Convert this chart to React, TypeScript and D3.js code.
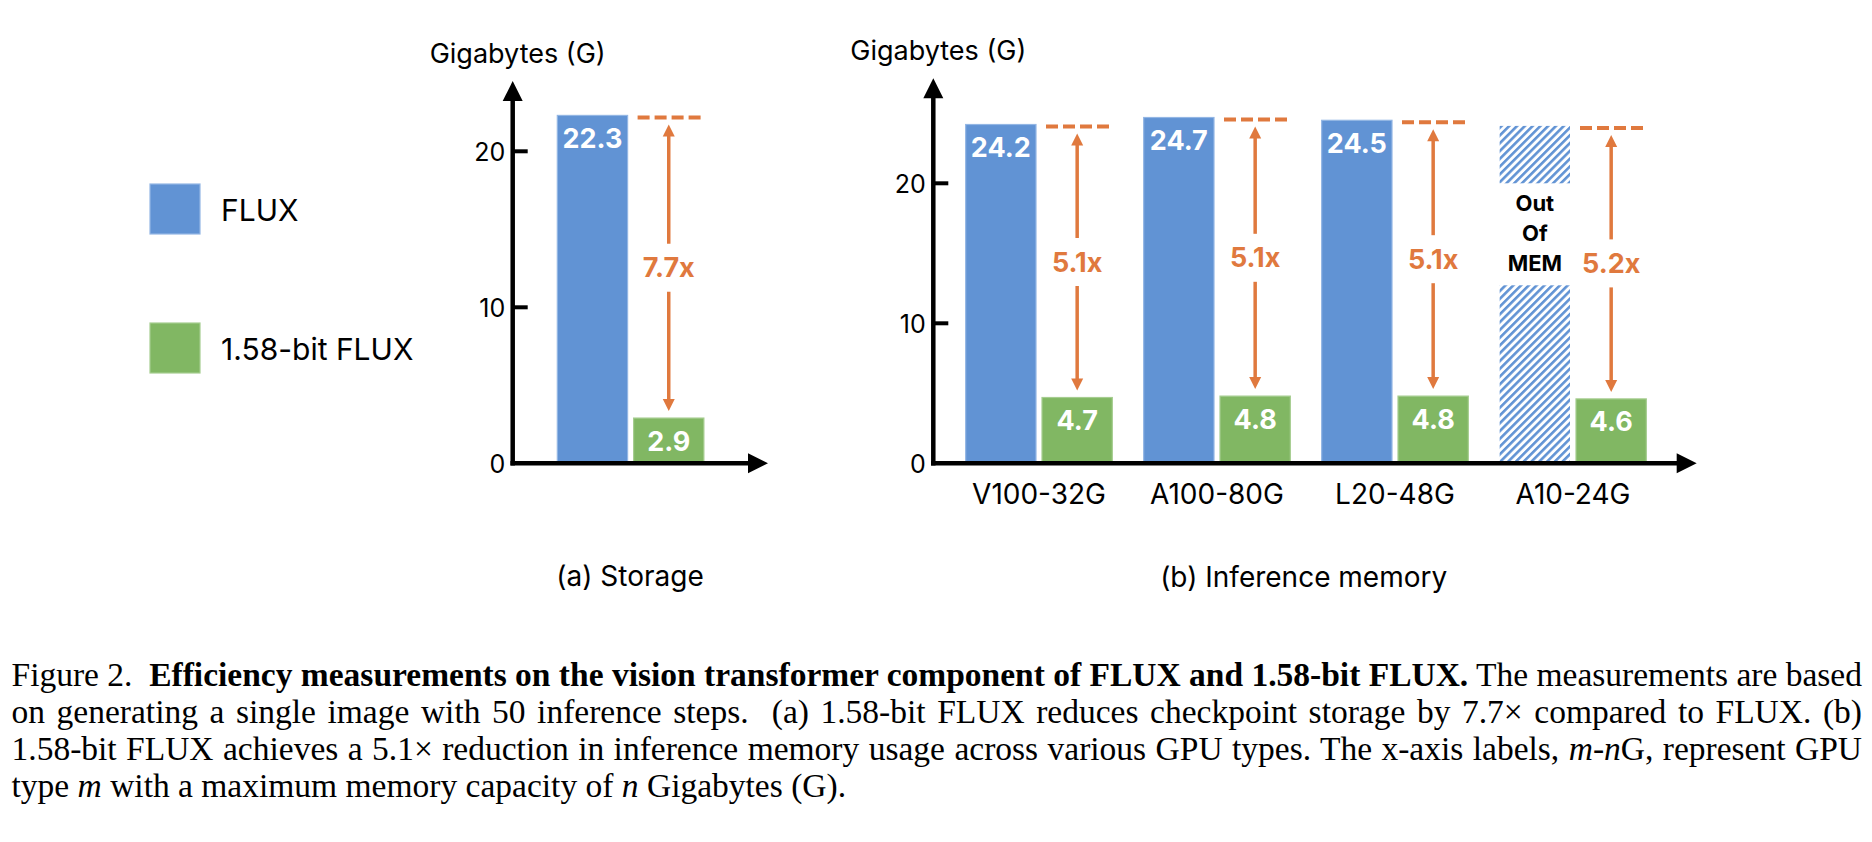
import * as d3 from "d3";
import { useEffect, useRef } from "react";

// ---- data ----
const seriesNames = ["FLUX", "1.58-bit FLUX"];

const storageCategories = ["Storage"];
const storageFlux = [22.3];
const storageBit = [2.9];
const storageRatio = ["7.7x"];
const storageTicks = [0, 10, 20];

const gpuCategories = ["V100-32G", "A100-80G", "L20-48G", "A10-24G"];
const gpuFlux = [24.2, 24.7, 24.5, 24.1]; // A10: would-be usage, drawn hatched (out of memory)
const gpuOutOfMem = [false, false, false, true];
const gpuBit = [4.7, 4.8, 4.8, 4.6];
const gpuRatio = ["5.1x", "5.1x", "5.1x", "5.2x"];
const gpuTicks = [0, 10, 20];

const oomLabel = ["Out", "Of", "MEM"];
const yTitle = "Gigabytes (G)";
const subTitles = ["(a) Storage", "(b) Inference memory"];

type Seg = { t: string; b?: boolean; i?: boolean };
const captionLines: Seg[][] = [
  [
    { t: "Figure 2.  " },
    { t: "Efficiency measurements on the vision transformer component of FLUX and 1.58-bit FLUX.", b: true },
    { t: " The measurements are based" },
  ],
  [{ t: "on generating a single image with 50 inference steps.  (a) 1.58-bit FLUX reduces checkpoint storage by 7.7× compared to FLUX. (b)" }],
  [
    { t: "1.58-bit FLUX achieves a 5.1× reduction in inference memory usage across various GPU types. The x-axis labels, " },
    { t: "m", i: true },
    { t: "-" },
    { t: "n", i: true },
    { t: "G, represent GPU" },
  ],
  [
    { t: "type " },
    { t: "m", i: true },
    { t: " with a maximum memory capacity of " },
    { t: "n", i: true },
    { t: " Gigabytes (G)." },
  ],
];

// ---- style ----
const BLUE = "#6193D4";
const BLUE_EDGE = "#93B6E4";
const GREEN = "#81B763";
const GREEN_EDGE = "#A6CD90";
const ORANGE = "#E0793E";
const FONT = "Inter, 'Liberation Sans', sans-serif";
const SERIF = "'Liberation Serif', 'DejaVu Serif', serif";

const W = 1872;
const H = 842;
const Y0 = 463.3;

interface PanelProps {
  cats: string[];
  flux: number[];
  bit: number[];
  ratio: string[];
  oom: boolean[];
  ticks: number[];
  axisX: number;
  xEnd: number;
  yMax: number;
  pxPerUnit: number;
  band: d3.ScaleBand<string>;
  showCats: boolean;
}

const Panel = ({ cats, flux, bit, ratio, oom, ticks, axisX, xEnd, yMax, pxPerUnit, band, showCats }: PanelProps) => {
  const y = d3.scaleLinear().domain([0, yMax]).range([Y0, Y0 - yMax * pxPerUnit]);
  const inner = d3.scaleBand<string>().domain(seriesNames).range([0, band.bandwidth()]).paddingInner(0.0786);
  const bw = inner.bandwidth();
  const yTip = y(yMax);
  const head = 20;

  return (
    <g>
      {/* y title */}
      <text x={axisX - 83} y={yTip - 18} fontFamily={FONT} fontSize={27} fill="#000">
        {yTitle}
      </text>

      {cats.map((c, i) => {
        const gx = band(c)!;
        const bx = gx + inner(seriesNames[0])!;
        const gxx = gx + inner(seriesNames[1])!;
        const blueTop = y(flux[i]);
        const greenTop = y(bit[i]);
        const dashY = blueTop + 2;
        const cx = gxx + bw / 2;
        const tTop = dashY + 7;
        const tBot = greenTop - 7;
        const mid = (tTop + tBot) / 2;
        const ah = 12;
        const gapTop = y(20);
        const gapBot = gapTop + 102;
        return (
          <g key={c}>
            {oom[i] ? (
              <g>
                <rect x={bx} y={blueTop} width={bw} height={gapTop - blueTop} fill="url(#hatch)" />
                <rect x={bx} y={gapBot} width={bw} height={Y0 - gapBot} fill="url(#hatch)" />
                {oomLabel.map((t, k) => (
                  <text
                    key={t}
                    x={bx + bw / 2}
                    y={gapTop + 20 + k * 30}
                    textAnchor="middle"
                    dominantBaseline="central"
                    fontFamily={FONT}
                    fontWeight={700}
                    fontSize={22}
                    fill="#000"
                  >
                    {t}
                  </text>
                ))}
              </g>
            ) : (
              <g>
                <rect x={bx} y={blueTop} width={bw} height={Y0 - blueTop} fill={BLUE} stroke={BLUE_EDGE} strokeWidth={1.2} />
                <text
                  x={bx + bw / 2}
                  y={blueTop + 23}
                  textAnchor="middle"
                  dominantBaseline="central"
                  fontFamily={FONT}
                  fontWeight={700}
                  fontSize={27}
                  fill="#fff"
                >
                  {flux[i].toFixed(1)}
                </text>
              </g>
            )}
            <rect x={gxx} y={greenTop} width={bw} height={Y0 - greenTop} fill={GREEN} stroke={GREEN_EDGE} strokeWidth={1.2} />
            <text
              x={gxx + bw / 2}
              y={greenTop + 23}
              textAnchor="middle"
              dominantBaseline="central"
              fontFamily={FONT}
              fontWeight={700}
              fontSize={27}
              fill="#fff"
            >
              {bit[i].toFixed(1)}
            </text>

            {/* dashed reference at FLUX level */}
            <line x1={gxx + 4} x2={gxx + bw - 3} y1={dashY} y2={dashY} stroke={ORANGE} strokeWidth={4} strokeDasharray="12 5" />

            {/* double arrow */}
            <line x1={cx} x2={cx} y1={tTop + ah - 1} y2={mid - 24} stroke={ORANGE} strokeWidth={3.5} />
            <line x1={cx} x2={cx} y1={mid + 24} y2={tBot - ah + 1} stroke={ORANGE} strokeWidth={3.5} />
            <path d={`M${cx},${tTop} L${cx - 6},${tTop + ah} L${cx + 6},${tTop + ah} Z`} fill={ORANGE} />
            <path d={`M${cx},${tBot} L${cx - 6},${tBot - ah} L${cx + 6},${tBot - ah} Z`} fill={ORANGE} />
            <text
              x={cx}
              y={mid}
              textAnchor="middle"
              dominantBaseline="central"
              fontFamily={FONT}
              fontWeight={700}
              fontSize={27}
              fill={ORANGE}
            >
              {ratio[i]}
            </text>

            {showCats && (
              <text
                x={gx + band.bandwidth() / 2}
                y={504}
                textAnchor="middle"
                fontFamily={FONT}
                fontSize={28}
                fill="#000"
              >
                {c}
              </text>
            )}
          </g>
        );
      })}

      {/* axes */}
      <line x1={axisX} x2={axisX} y1={Y0 + 2.25} y2={yTip + head - 1} stroke="#000" strokeWidth={4.5} />
      <path d={`M${axisX},${yTip} L${axisX - 10},${yTip + head} L${axisX + 10},${yTip + head} Z`} fill="#000" />
      <line x1={axisX - 2.25} x2={xEnd - head + 1} y1={Y0} y2={Y0} stroke="#000" strokeWidth={4.5} />
      <path d={`M${xEnd},${Y0} L${xEnd - head},${Y0 - 10} L${xEnd - head},${Y0 + 10} Z`} fill="#000" />

      {ticks.map((t) => (
        <g key={t}>
          {t > 0 && <line x1={axisX} x2={axisX + 15} y1={y(t)} y2={y(t)} stroke="#000" strokeWidth={4} />}
          <text
            x={axisX - 7.5}
            y={y(t) + 1}
            textAnchor="end"
            dominantBaseline="central"
            fontFamily={FONT}
            fontSize={25}
            fill="#000"
          >
            {t}
          </text>
        </g>
      ))}
    </g>
  );
};

export default function App() {
  const capRef = useRef<SVGGElement | null>(null);
  const capLeft = 11.5;
  const capRight = 1862;

  useEffect(() => {
    if (!capRef.current) return;
    d3.select(capRef.current)
      .selectAll<SVGTextElement, unknown>("text.justify")
      .each(function () {
        this.style.wordSpacing = "0px";
        const natural = this.getComputedTextLength();
        const spaces = (this.textContent || "").split(" ").length - 1;
        if (spaces > 0) this.style.wordSpacing = `${(capRight - capLeft - natural) / spaces}px`;
      });
  }, []);

  // storage panel: one group
  const bandA = d3.scaleBand<string>().domain(storageCategories).range([528, 733.2]).paddingOuter(0.2);
  // inference panel: four GPU groups
  const bandB = d3
    .scaleBand<string>()
    .domain(gpuCategories)
    .range([950, 950 + 4 * 178])
    .paddingInner(0.176)
    .paddingOuter(0.088);

  return (
    <svg width={W} height={H} style={{ position: "absolute", left: 0, top: 0, background: "#fff" }}>
      <defs>
        <pattern id="hatch" width={5.5} height={5.5} patternUnits="userSpaceOnUse" patternTransform="rotate(45)">
          <rect width={5.5} height={5.5} fill="#fff" />
          <rect x={0} y={0} width={2.6} height={5.5} fill={BLUE} />
        </pattern>
      </defs>

      {/* legend */}
      {seriesNames.map((s, i) => (
        <g key={s} transform={`translate(150, ${184 + i * 139})`}>
          <rect width={50} height={50} fill={i === 0 ? BLUE : GREEN} stroke={i === 0 ? BLUE_EDGE : GREEN_EDGE} strokeWidth={1.2} />
          <text x={71} y={37} fontFamily={FONT} fontSize={30} fill="#000">
            {s}
          </text>
        </g>
      ))}

      <Panel
        cats={storageCategories}
        flux={storageFlux}
        bit={storageBit}
        ratio={storageRatio}
        oom={[false]}
        ticks={storageTicks}
        axisX={512.7}
        xEnd={768}
        yMax={24.5}
        pxPerUnit={15.6}
        band={bandA}
        showCats={false}
      />
      <Panel
        cats={gpuCategories}
        flux={gpuFlux}
        bit={gpuBit}
        ratio={gpuRatio}
        oom={gpuOutOfMem}
        ticks={gpuTicks}
        axisX={933.3}
        xEnd={1696.7}
        yMax={27.5}
        pxPerUnit={14}
        band={bandB}
        showCats={true}
      />

      <text x={630} y={586} textAnchor="middle" fontFamily={FONT} fontSize={28} fill="#000">
        {subTitles[0]}
      </text>
      <text x={1303.7} y={587} textAnchor="middle" fontFamily={FONT} fontSize={28} fill="#000">
        {subTitles[1]}
      </text>

      {/* caption */}
      <g ref={capRef}>
        {captionLines.map((line, li) => (
          <text
            key={li}
            className={li < 3 ? "justify" : ""}
            x={capLeft}
            y={686 + li * 37}
            fontFamily={SERIF}
            fontSize={33.5}
            fill="#000"
            style={{ whiteSpace: "pre" }}
          >
            {line.map((s, k) => (
              <tspan key={k} fontWeight={s.b ? 700 : 400} fontStyle={s.i ? "italic" : "normal"}>
                {s.t}
              </tspan>
            ))}
          </text>
        ))}
      </g>
    </svg>
  );
}
